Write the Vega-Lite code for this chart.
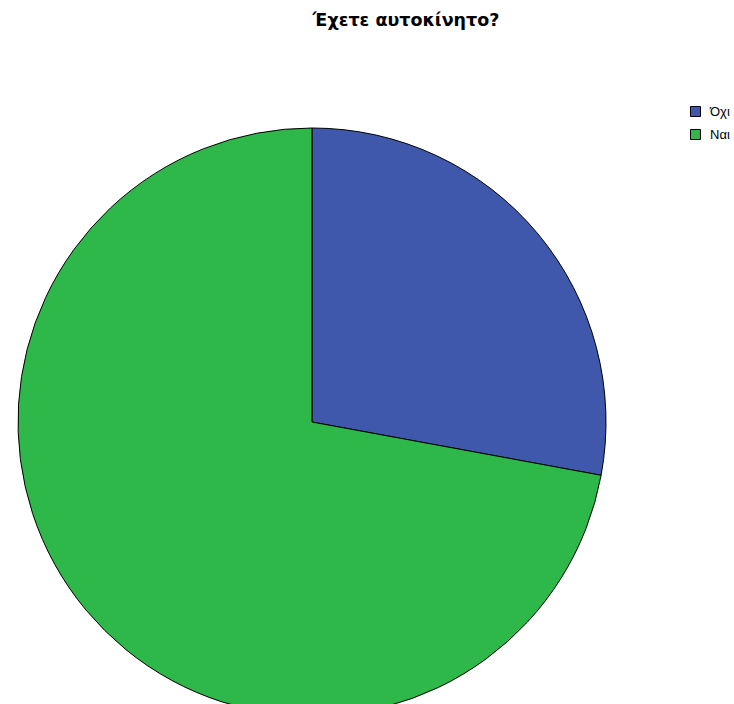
{
  "$schema": "https://vega.github.io/schema/vega-lite/v6.json",
  "width": 624,
  "height": 568,
  "autosize": "none",
  "padding": {"left": 0, "top": 138, "right": 110, "bottom": 0},
  "background": "white",
  "title": {
    "text": "Έχετε αυτοκίνητο?",
    "font": "DejaVu Sans",
    "fontSize": 17.5,
    "fontWeight": "bold",
    "color": "#000000",
    "anchor": "middle",
    "dx": 94,
    "dy": -72
  },
  "data": {
    "values": [
      {"answer": "Όχι", "percent": 27.9, "order": 1},
      {"answer": "Ναι", "percent": 72.1, "order": 2}
    ]
  },
  "mark": {"type": "arc", "radius": 294, "stroke": "#000000", "strokeWidth": 1},
  "encoding": {
    "theta": {"field": "percent", "type": "quantitative", "stack": true},
    "order": {"field": "order", "type": "quantitative"},
    "color": {
      "field": "answer",
      "type": "nominal",
      "sort": ["Όχι", "Ναι"],
      "scale": {"domain": ["Όχι", "Ναι"], "range": ["#3F58AC", "#2EB84A"]},
      "legend": {
        "title": null,
        "orient": "none",
        "legendX": 689,
        "legendY": -33,
        "symbolType": "square",
        "symbolSize": 100,
        "symbolStrokeColor": "#000000",
        "symbolStrokeWidth": 1,
        "labelFont": "Liberation Sans",
        "labelFontSize": 13,
        "labelColor": "#000000",
        "rowPadding": 8,
        "labelOffset": 8
      }
    }
  }
}
